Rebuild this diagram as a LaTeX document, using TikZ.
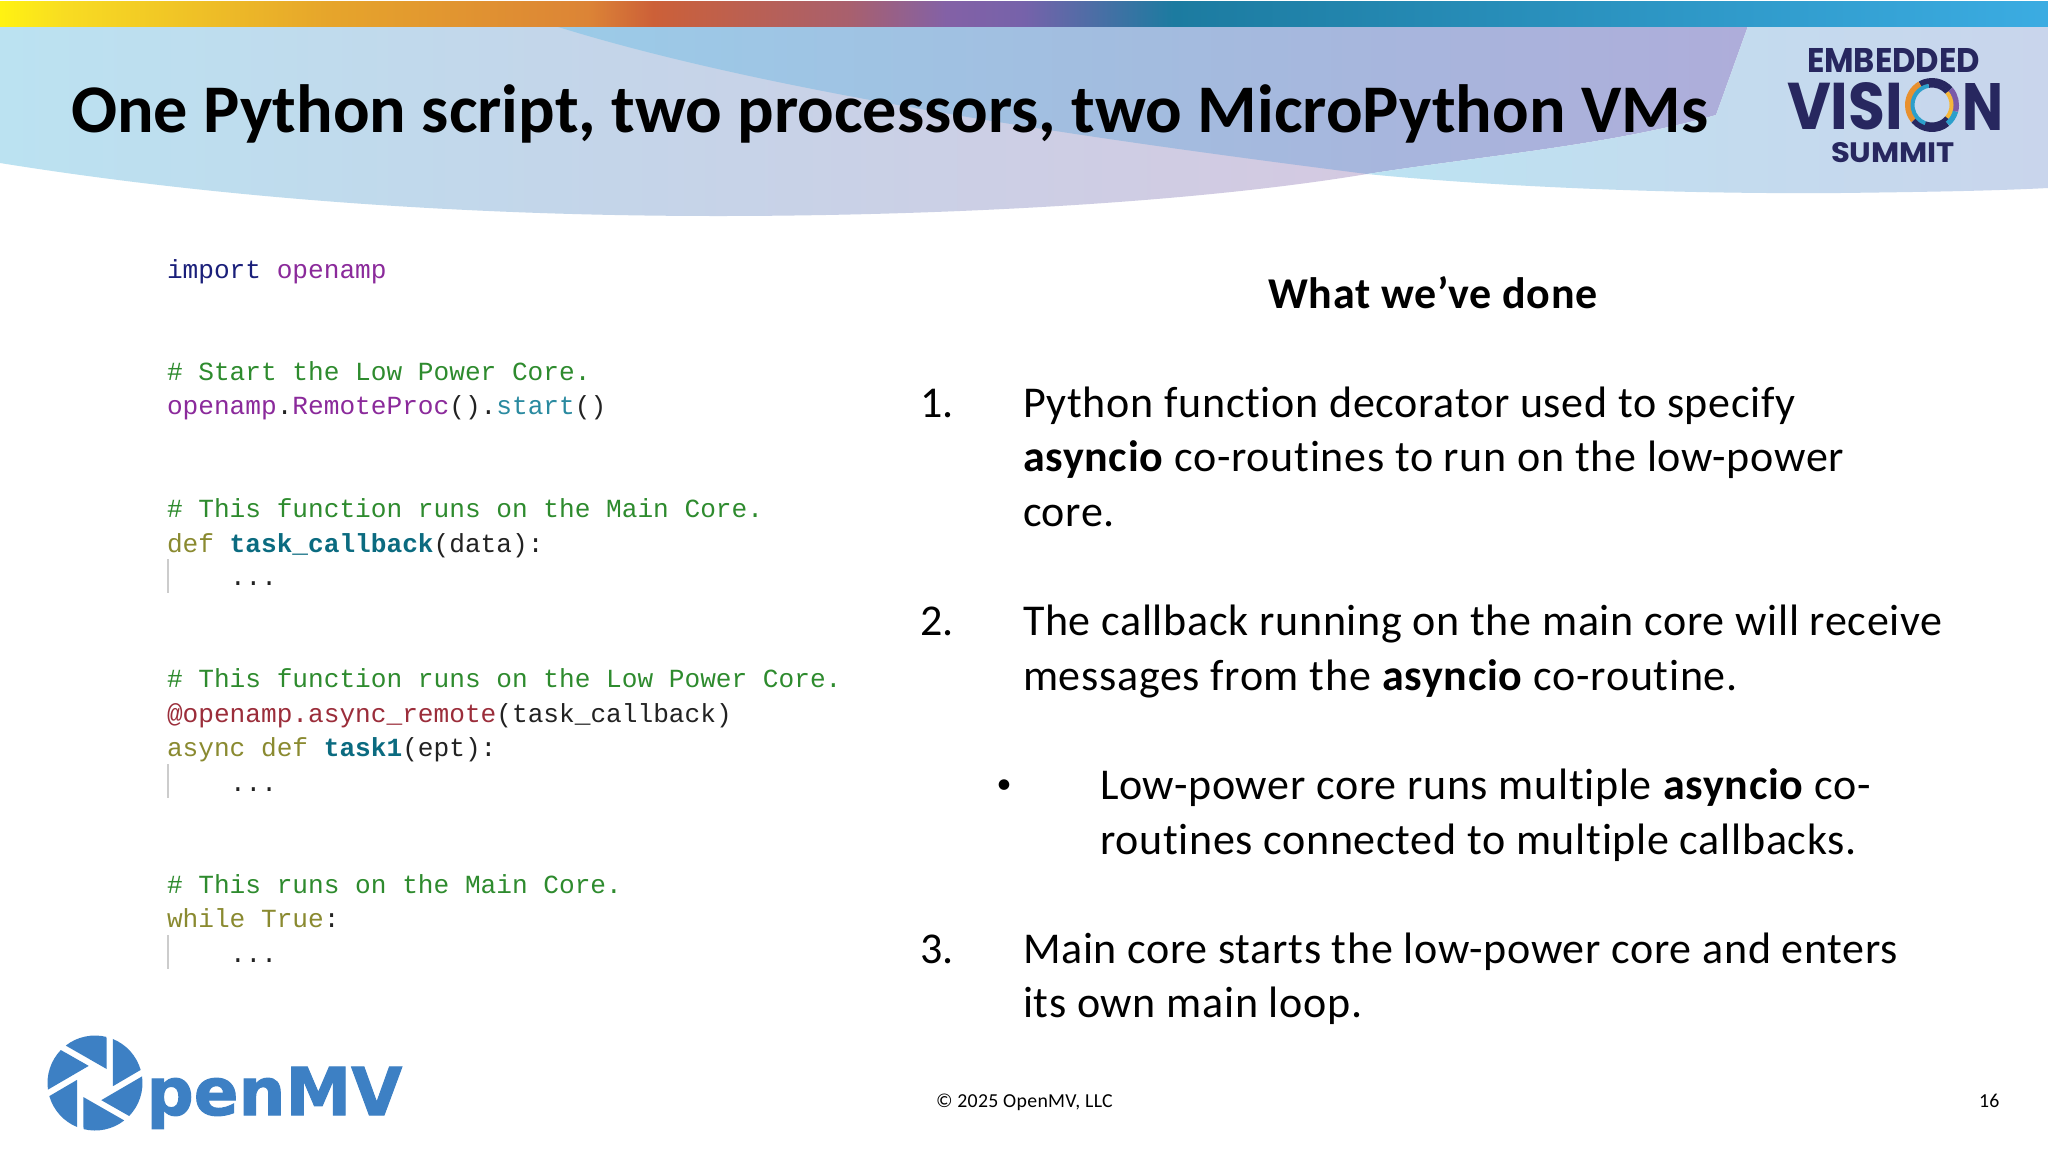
\documentclass[tikz,border=0pt]{standalone}
\usepackage{fontspec}
\setmainfont{Carlito}[Ligatures=NoCommon,LetterSpace=1.6]
\newfontfamily\titlefont{Carlito}[Ligatures=NoCommon]
\newfontfamily\codefont{Liberation Mono}
\newfontfamily\logofont{Poppins}
\newfontfamily\markfont{DejaVu Sans}[BoldFeatures={FakeBold=1.5}]
\definecolor{y1}{HTML}{FFF212}\definecolor{y2}{HTML}{F8DC22}\definecolor{y3}{HTML}{E6A52B}\definecolor{y4}{HTML}{DC8436}\definecolor{y5}{HTML}{CC6038}\definecolor{y6}{HTML}{A8606E}\definecolor{y7}{HTML}{8361A6}\definecolor{y8}{HTML}{7662AA}\definecolor{y9}{HTML}{1C7BA0}\definecolor{y10}{HTML}{3BACE2}
\definecolor{l1}{HTML}{BBE2F1}\definecolor{l2}{HTML}{C3D6EA}\definecolor{l3}{HTML}{D4C9E1}
\definecolor{m1}{HTML}{9BCBE8}\definecolor{m2}{HTML}{A3BCDF}\definecolor{m3}{HTML}{AEADDA}
\definecolor{r1}{HTML}{BCE3F2}\definecolor{r2}{HTML}{C2DDEF}\definecolor{r3}{HTML}{C9D5EC}
\pgfdeclarehorizontalshading{barshade}{100bp}{color(0bp)=(y1);color(25bp)=(y1);color(26.6bp)=(y2);color(33bp)=(y3);color(39.35bp)=(y4);color(40.95bp)=(y5);color(45.75bp)=(y6);color(48.1bp)=(y7);color(50bp)=(y8);color(53.65bp)=(y9);color(75bp)=(y10);color(100bp)=(y10)}
\pgfdeclarehorizontalshading{leftshade}{100bp}{color(0bp)=(l1);color(25bp)=(l1);color(45bp)=(l2);color(75bp)=(l3);color(100bp)=(l3)}
\pgfdeclarehorizontalshading{midshade}{100bp}{color(0bp)=(m1);color(25bp)=(m1);color(50bp)=(m2);color(75bp)=(m3);color(100bp)=(m3)}
\pgfdeclarehorizontalshading{rightshade}{100bp}{color(0bp)=(r1);color(25bp)=(r1);color(45bp)=(r2);color(75bp)=(r3);color(100bp)=(r3)}
\definecolor{navy}{HTML}{27275F}
\definecolor{mvblue}{HTML}{3D80C4}
\definecolor{cimp}{HTML}{1A1F7A}
\definecolor{cmod}{HTML}{8B2A9B}
\definecolor{ccom}{HTML}{2E8B2E}
\definecolor{cmeth}{HTML}{2A8AA0}
\definecolor{ckey}{HTML}{8A8A30}
\definecolor{cfun}{HTML}{0B6B80}
\definecolor{cdec}{HTML}{9B2D3A}
\definecolor{cplain}{HTML}{222222}
\definecolor{ringorange}{HTML}{E8902E}
\definecolor{ringyellow}{HTML}{F5B73A}
\definecolor{ringteal}{HTML}{2C9FCB}
\definecolor{ringpurple}{HTML}{7A5AA8}
\tikzset{
  txt/.style={inner sep=0pt,outer sep=0pt,anchor=base west},
  body/.style={txt,font=\fontsize{22pt}{26pt}\selectfont,text=black},
  code/.style={txt,font=\codefont\fontsize{13.07pt}{16pt}\selectfont,text=cplain},
  guide/.style={draw=black!20,line width=0.6pt},
  foot/.style={txt,font=\fontsize{9.9pt}{11pt}\selectfont,text=black},
  logotext/.style={inner sep=0pt,outer sep=0pt,text=navy,font=\logofont\bfseries},
}
\begin{document}
\begin{tikzpicture}[x=0.5pt,y=-0.5pt]
\useasboundingbox (0,0) rectangle (2048,1152);
\fill[white] (0,0) rectangle (2048,1152);
% wave shapes
\shade[shading=leftshade] (0,26) -- (1367,26) -- (1367,174)
  .. controls (1180,205) and (920,216) .. (718,216)
  .. controls (480,216) and (230,200) .. (0,163) -- cycle;
\shade[shading=midshade] (555,26) -- (1748,26) -- (1716,115)
  .. controls (1610,145) and (1490,155) .. (1367,174)
  .. controls (1060,135) and (760,90) .. (555,26) -- cycle;
\shade[shading=rightshade] (1367,174) .. controls (1490,155) and (1610,145) .. (1716,115)
  -- (1748,26) -- (2048,26) -- (2048,188)
  .. controls (1990,191) and (1920,192) .. (1840,193)
  .. controls (1720,194) and (1530,190) .. (1367,174) -- cycle;
\shade[shading=barshade] (0,1) rectangle (2048,26);
% title
\node[txt,font=\titlefont\fontsize{34.1pt}{41pt}\selectfont\bfseries] (title) at (71,132) {One Python script, two processors, two MicroPython VMs};
% event logo
\node[logotext] (embedded) at (1893.5,60) {\resizebox{86.5pt}{12pt}{EMBEDDED}};
\node[logotext] (visi) at (1845,106.5) {\resizebox{58pt}{23.5pt}{VISI}};
\node[logotext] (visn) at (1982.5,106.5) {\resizebox{20.5pt}{23.5pt}{N}};
\node[logotext] (summit) at (1893,153) {\resizebox{62pt}{10pt}{SUMMIT}};
\begin{scope}[shift={(1932,105)},x=0.5pt,y=0.5pt,line cap=butt]
  \foreach \s/\e/\c in {40/120/navy,120/220/ringorange,220/310/navy,310/345/ringteal,345/400/ringpurple}
    \draw[\c,line width=3pt] (\s:24) arc[start angle=\s,end angle=\e,radius=24];
  \foreach \s/\e/\c in {40/100/navy,100/250/ringteal,250/320/navy,320/400/ringyellow}
    \draw[\c,line width=2pt] (\s:19.5) arc[start angle=\s,end angle=\e,radius=19.5];
\end{scope}
% code
\node[code] (c1) at (167,278) {\textcolor{cimp}{import}~\textcolor{cmod}{openamp}};
\node[code,text=ccom] (c2) at (167,380) {\#~Start~the~Low~Power~Core.};
\node[code] (c3) at (167,414) {\textcolor{cmod}{openamp}.\textcolor{cmod}{RemoteProc}().\textcolor{cmeth}{start}()};
\node[code,text=ccom] (c4) at (167,517) {\#~This~function~runs~on~the~Main~Core.};
\node[code] (c5) at (167,552) {\textcolor{ckey}{def}~\textcolor{cfun}{\bfseries task\_callback}(data):};
\node[code] (c6) at (230,585) {...};
\node[code,text=ccom] (c7) at (167,687) {\#~This~function~runs~on~the~Low~Power~Core.};
\node[code] (c8) at (167,722) {\textcolor{cdec}{@openamp.async\_remote}(task\_callback)};
\node[code] (c9) at (167,756) {\textcolor{ckey}{async}~\textcolor{ckey}{def}~\textcolor{cfun}{\bfseries task1}(ept):};
\node[code] (c10) at (230,791) {...};
\node[code,text=ccom] (c11) at (167,893) {\#~This~runs~on~the~Main~Core.};
\node[code] (c12) at (167,927) {\textcolor{ckey}{while}~\textcolor{ckey}{True}:};
\node[code] (c13) at (230,962) {...};
\draw[guide] (168,559) -- (168,593);
\draw[guide] (168,764) -- (168,798);
\draw[guide] (168,935) -- (168,969);
% right column
\node[body,anchor=base,font=\fontsize{22pt}{26pt}\selectfont\bfseries] (head) at (1433,308) {What we’ve done};
\node[body] (n1) at (920,417) {1.};
\node[body] (t1a) at (1023,417) {Python function decorator used to specify};
\node[body] (t1b) at (1023,471.5) {\textbf{asyncio} co-routines to run on the low-power};
\node[body] (t1c) at (1023,526) {core.};
\node[body] (n2) at (920,635) {2.};
\node[body] (t2a) at (1023,635) {The callback running on the main core will receive};
\node[body] (t2b) at (1023,690) {messages from the \textbf{asyncio} co-routine.};
\node[body,anchor=base,font=\fontsize{15pt}{18pt}\selectfont] (bul) at (1004,793) {•};
\node[body] (t3a) at (1100,799) {Low-power core runs multiple \textbf{asyncio} co-};
\node[body] (t3b) at (1100,854) {routines connected to multiple callbacks.};
\node[body] (n3) at (920,963) {3.};
\node[body] (t4a) at (1023,963) {Main core starts the low-power core and enters};
\node[body] (t4b) at (1023,1017) {its own main loop.};
% footer
\node[foot] (copy) at (936,1107) {© 2025 OpenMV, LLC};
\node[foot] (page) at (1979,1107) {16};
% OpenMV logo
\begin{scope}[shift={(95,1083)},x=0.5pt,y=0.5pt]
  \foreach \a in {0,60,...,300}
    \fill[mvblue,rotate=\a] (128:47.5) arc[start angle=128,end angle=76,radius=47.5] -- (11.7,14) -- cycle;
\end{scope}
\node[txt,text=mvblue,font=\markfont\bfseries\fontsize{33pt}{38pt}\selectfont] (penmv) at (146.5,1115) {penMV};
\end{tikzpicture}
\end{document}
